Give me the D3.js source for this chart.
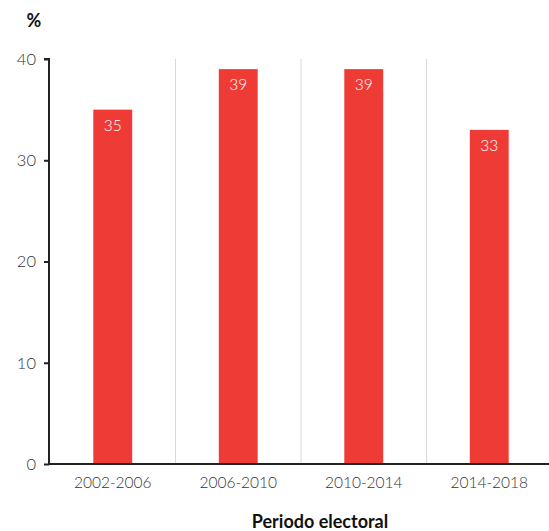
<!DOCTYPE html>
<html><head><meta charset="utf-8">
<script src="https://cdn.jsdelivr.net/npm/d3@7"></script>
<style>
body{margin:0;background:#fff;}
text{font-family:Lato, "Open Sans", sans-serif;}
</style></head>
<body><svg id="c" width="549" height="531"></svg>
<script>
const categories = ["2002-2006","2006-2010","2010-2014","2014-2018"];
const values = [35, 39, 39, 33];
const yTicks = [0,10,20,30,40];
const xTitle = "Periodo electoral";
const yUnit = "%";

const svg = d3.select("#c");
const x = d3.scaleBand().domain(categories).range([50, 552]).paddingInner(0.69).paddingOuter(0.345);
const y = d3.scaleLinear().domain([0,40]).range([464, 59]);

const step = x.step();
const bounds = categories.slice(1).map(c => x(c) - x.paddingInner()*step/2);
svg.append("g").selectAll("line").data(bounds).join("line")
  .attr("x1", d=>d).attr("x2", d=>d).attr("y1", y(40)).attr("y2", y(0))
  .attr("stroke","#d9d9d9").attr("stroke-width",1);

svg.append("g").selectAll("rect").data(values).join("rect")
  .attr("x",(d,i)=>x(categories[i])).attr("width",x.bandwidth())
  .attr("y",d=>y(d)).attr("height",d=>y(0)-y(d)).attr("fill","#ef3b36");

svg.append("g").selectAll("text").data(values).join("text")
  .attr("x",(d,i)=>x(categories[i])+x.bandwidth()/2).attr("y",d=>y(d)+21)
  .attr("text-anchor","middle").attr("fill","#fff").attr("font-size",15.5).attr("font-weight",300)
  .text(d=>d);

const ya = svg.append("g").attr("transform","translate(49,0)")
  .call(d3.axisLeft(y).tickValues(yTicks).tickSize(5).tickPadding(8));
ya.select(".domain").attr("stroke","#222").attr("stroke-width",2).attr("d",`M-5,${y(40)}H0V${y(0)}`);
ya.selectAll(".tick line").attr("stroke","#222").attr("stroke-width",2);
ya.selectAll(".tick text").attr("font-size",16.5).attr("fill","#333").attr("font-weight",300).attr("font-family","Lato, sans-serif");

const xa = svg.append("g").attr("transform",`translate(0,${y(0)})`)
  .call(d3.axisBottom(x).tickSize(0).tickPadding(13));
xa.select(".domain").attr("stroke","#222").attr("stroke-width",2).attr("d",`M48,0H549`);
xa.selectAll(".tick text").attr("font-size",15.5).attr("fill","#333").attr("font-weight",300).attr("font-family","Lato, sans-serif");

svg.append("text").attr("x",320).attr("y",528).attr("text-anchor","middle")
  .attr("font-size",18).attr("font-weight",700).attr("fill","#111")
  .text(xTitle);
svg.append("text").attr("x",34).attr("y",27).attr("text-anchor","middle")
  .attr("font-size",18).attr("font-weight",700).attr("fill","#111").text(yUnit);
</script></body></html>
